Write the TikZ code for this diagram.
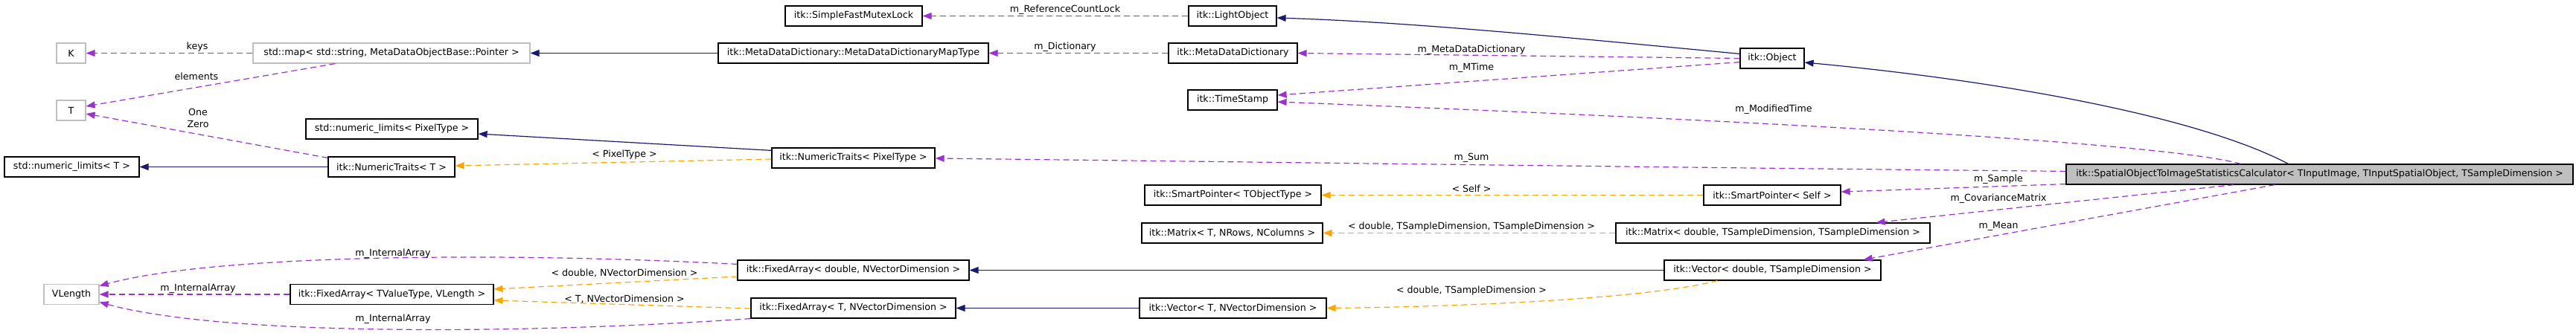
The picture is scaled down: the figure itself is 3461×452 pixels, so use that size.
\documentclass[tikz,border=0pt]{standalone}
\usepackage{fontspec}
\setmainfont{DejaVu Sans}
\usetikzlibrary{arrows.meta,calc}
\definecolor{navy}{HTML}{191970}
\definecolor{purp}{HTML}{9A32CD}
\definecolor{orng}{HTML}{FFA500}
\definecolor{grayB}{HTML}{BFBFBF}
\newcommand{\dvfont}{\fontsize{12.6pt}{16pt}\selectfont}
\tikzset{
  cls/.style={draw=black, line width=1.2pt, fill=white, minimum height=27pt, inner sep=0pt, font=\dvfont, text=black},
  undoc/.style={cls, draw=grayB},
  mainnode/.style={cls, fill=grayB},
  inh/.style={draw=navy, color=navy, line width=1.2pt, -{Triangle[length=12pt,width=9pt]}},
  use/.style={draw=purp, color=purp, line width=1.2pt, dash pattern=on 8pt off 5pt, -{Triangle[length=12pt,width=9pt]}},
  tmpl/.style={draw=orng, color=orng, line width=1.2pt, dash pattern=on 8pt off 5pt, -{Triangle[length=12pt,width=9pt]}},
  lbl/.style={font=\dvfont, inner sep=0pt, text=black, align=center}
}
\begin{document}
\begin{tikzpicture}[x=1pt,y=-1pt]
\useasboundingbox[fill=white] (0,0) rectangle (3461,452);
% column 1
\node[undoc, minimum width=39pt] (K) at (95.5,71.5) {K};
\node[undoc, minimum width=39pt] (T) at (95.5,148.5) {T};
\node[cls, minimum width=181pt] (nlT) at (96.5,224.5) {std::numeric\_limits< T >};
\node[undoc, minimum width=74pt] (VLength) at (96,396) {VLength};
% column 2
\node[undoc, minimum width=372pt] (map) at (526,71.5) {std::map< std::string, MetaDataObjectBase::Pointer >};
\node[cls, minimum width=231pt] (nlPT) at (526.5,173.5) {std::numeric\_limits< PixelType >};
\node[cls, minimum width=170pt] (ntT) at (526,224.5) {itk::NumericTraits< T >};
\node[cls, minimum width=273pt] (faTV) at (526.5,396) {itk::FixedArray< TValueType, VLength >};
% column 3
\node[cls, minimum width=184pt] (sfml) at (1147,21.5) {itk::SimpleFastMutexLock};
\node[cls, minimum width=363pt] (mapType) at (1146.5,71.5) {itk::MetaDataDictionary::MetaDataDictionaryMapType};
\node[cls, minimum width=219pt] (ntPT) at (1146.5,212.5) {itk::NumericTraits< PixelType >};
\node[cls, minimum width=311pt] (faD) at (1146.5,363.5) {itk::FixedArray< double, NVectorDimension >};
\node[cls, minimum width=275pt] (faT) at (1146.5,414.5) {itk::FixedArray< T, NVectorDimension >};
% column 4
\node[cls, minimum width=118pt] (light) at (1656,21.5) {itk::LightObject};
\node[cls, minimum width=173pt] (mdd) at (1656.5,71.5) {itk::MetaDataDictionary};
\node[cls, minimum width=120pt] (ts) at (1656,134.5) {itk::TimeStamp};
\node[cls, minimum width=237pt] (spT) at (1656.5,262.5) {itk::SmartPointer< TObjectType >};
\node[cls, minimum width=243pt] (mT) at (1655.5,313.5) {itk::Matrix< T, NRows, NColumns >};
\node[cls, minimum width=251pt] (vT) at (1656.5,414.5) {itk::Vector< T, NVectorDimension >};
% column 5
\node[cls, minimum width=86pt] (obj) at (2381,78.5) {itk::Object};
\node[cls, minimum width=184pt] (spS) at (2381,262.5) {itk::SmartPointer< Self >};
\node[cls, minimum width=422pt] (mD) at (2382,313.5) {itk::Matrix< double, TSampleDimension, TSampleDimension >};
\node[cls, minimum width=291pt] (vD) at (2381.5,363.5) {itk::Vector< double, TSampleDimension >};
% main
\node[mainnode, minimum width=681pt] (main) at (3116.5,234.5) {itk::SpatialObjectToImageStatisticsCalculator< TInputImage, TInputSpatialObject, TSampleDimension >};

% edges
\draw[use] (light.west) -- (sfml.east);
\node[lbl] (l1) at (1431,13) {m\_ReferenceCountLock};
\draw[inh] ($(obj.north west)+(0,8)$) .. controls (2100,50) and (1900,30) .. ($(light.east)+(0,2.5)$);
\draw[inh] (mapType.west) -- (map.east);
\draw[use] (mdd.west) -- (mapType.east);
\node[lbl] (l2) at (1431,63) {m\_Dictionary};
\draw[use] (obj.west) -- (mdd.east);
\node[lbl] (l3) at (1977,67) {m\_MetaDataDictionary};
\draw[use] ($(obj.south west)+(0,-9)$) -- ($(ts.east)+(0,-6.5)$);
\node[lbl] (l4) at (1977,91) {m\_MTime};
\draw[use] ($(main.north west)+(235,0)$) .. controls (2900,190) and (2300,160) .. ($(ts.east)+(0,2.5)$);
\node[lbl] (l5) at (2383,147) {m\_ModifiedTime};
\draw[inh] ($(main.north west)+(299,0)$) .. controls (2940,150) and (2650,105) .. ($(obj.east)+(0,5.5)$);
\draw[use] ($(main.north west)+(0,10)$) .. controls (2300,226) and (1700,218) .. ($(ntPT.east)+(0,0.5)$);
\node[lbl] (l6) at (1977,212) {m\_Sum};
\draw[inh] ($(ntPT.north west)+(0,4)$) -- ($(nlPT.east)+(0,6.5)$);
\draw[tmpl] ($(ntPT.west)+(0,1.5)$) -- ($(ntT.east)+(0,-1.5)$);
\node[lbl] (l7) at (839,208) {< PixelType >};
\draw[inh] (ntT.west) -- (nlT.east);
\draw[use] ($(ntT.north west)+(0,2)$) -- ($(T.east)+(0,4.5)$);
\node[lbl] (l8) at (266,159) {One\\Zero};
\draw[use] (map.west) -- (K.east);
\node[lbl] (l9) at (265,63) {keys};
\draw[use] ($(map.south west)+(111,0)$) -- ($(T.east)+(0,-5.5)$);
\node[lbl] (l10) at (264,103) {elements};
\draw[use] ($(main.south west)+(0,-1)$) -- ($(spS.east)+(0,-4.5)$);
\node[lbl] (l11) at (2685,241) {m\_Sample};
\draw[tmpl] (spS.west) -- (spT.east);
\node[lbl] (l12) at (1977,254) {< Self >};
\draw[use] ($(main.south west)+(226,0)$) -- ($(mD.north east)+(-73,0)$);
\node[lbl] (l13) at (2685,267) {m\_CovarianceMatrix};
\draw[tmpl] (mD.west) -- (mT.east);
\node[lbl] (l14) at (1977,305) {< double, TSampleDimension, TSampleDimension >};
\draw[use] ($(main.south west)+(281,0)$) -- ($(vD.north east)+(-24,0)$);
\node[lbl] (l15) at (2685,304) {m\_Mean};
\draw[inh] (vD.west) -- (faD.east);
\draw[tmpl] ($(vD.south west)+(72,0)$) .. controls (2220,400) and (2000,412) .. (vT.east);
\node[lbl] (l16) at (1977,391) {< double, TSampleDimension >};
\draw[inh] (vT.west) -- (faT.east);
\draw[use] ($(faD.north west)+(0,6)$) .. controls (700,340) and (300,340) .. ($(VLength.east)+(0,-11.5)$);
\node[lbl] (l17) at (528,341) {m\_InternalArray};
\draw[tmpl] ($(faD.west)+(0,8.5)$) -- ($(faTV.east)+(0,-7)$);
\node[lbl] (l18) at (839,367) {< double, NVectorDimension >};
\draw[tmpl] ($(faT.west)+(0,0.5)$) -- ($(faTV.east)+(0,8)$);
\node[lbl] (l19) at (839,402) {< T, NVectorDimension >};
\draw[use] (faT.south west) .. controls (700,450) and (300,452) .. ($(VLength.east)+(0,10.5)$);
\node[lbl] (l20) at (528,429) {m\_InternalArray};
\draw[use] (faTV.west) -- (VLength.east);
\node[lbl] (l21) at (266,388) {m\_InternalArray};
\end{tikzpicture}
\end{document}
